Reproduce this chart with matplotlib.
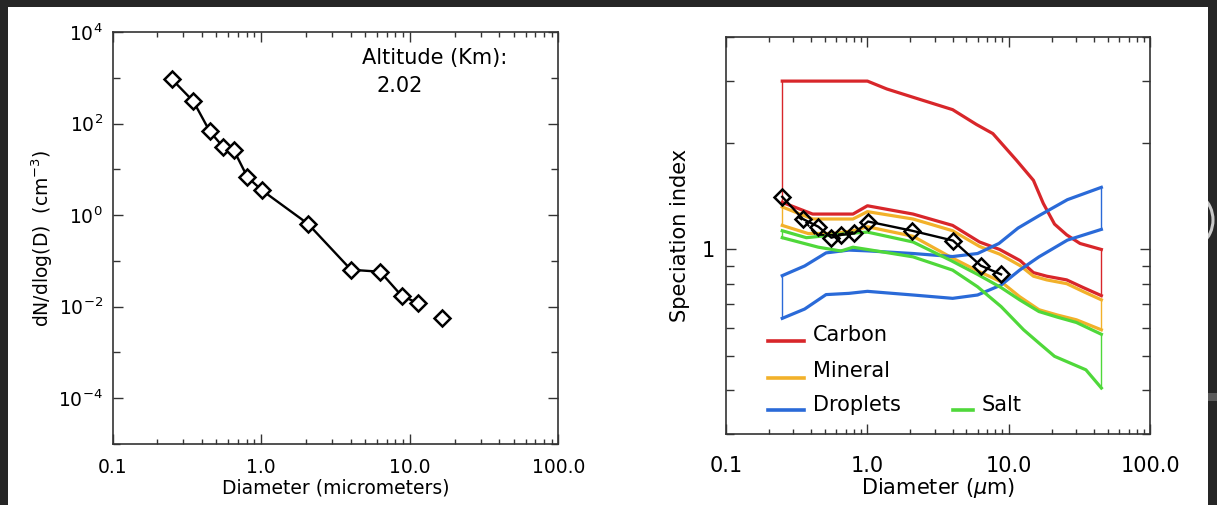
import matplotlib
matplotlib.use("Agg")
import matplotlib.pyplot as plt
from matplotlib.patches import Rectangle, Arc
from matplotlib.ticker import FixedLocator, FixedFormatter, NullFormatter

plt.rcParams["font.family"] = ["DejaVu Sans"]

# ---- left panel: size distribution at 2.02 km ----
size_D = [0.25, 0.35, 0.45, 0.556, 0.655, 0.807, 1.01, 2.07, 4.02, 6.32, 8.8, 11.3]
size_N = [940, 305, 68, 30.5, 26, 6.8, 3.5, 0.64, 0.064, 0.058, 0.0173, 0.012]
extra_D = [16.4]
extra_N = [0.0057]

# ---- right panel: speciation index bands ----
carbon_hi_D = [0.25, 1.0, 1.37, 2.1, 4.0, 5.9, 7.7, 11.3, 14.9, 17.5, 21, 25.6, 31.8, 45]
carbon_hi_S = [3.0, 3.0, 2.85, 2.70, 2.49, 2.26, 2.13, 1.79, 1.57, 1.35, 1.18, 1.10, 1.04, 1.0]
carbon_lo_D = [0.25, 0.41, 0.79, 1.0, 2.1, 4.0, 6.2, 8.6, 12, 14.9, 18.5, 25.6, 33.5, 45]
carbon_lo_S = [1.36, 1.26, 1.26, 1.33, 1.26, 1.17, 1.05, 1.0, 0.93, 0.86, 0.84, 0.82, 0.78, 0.74]

mineral_hi_D = carbon_lo_D
mineral_hi_S = [1.32, 1.22, 1.22, 1.28, 1.22, 1.13, 1.02, 0.97, 0.90, 0.84, 0.82, 0.80, 0.76, 0.72]
mineral_lo_D = [0.25, 0.38, 0.57, 0.79, 1.0, 2.1, 3.9, 6.0, 8.8, 11.9, 16.3, 22, 30, 45]
mineral_lo_S = [1.17, 1.11, 1.11, 1.13, 1.16, 1.09, 0.95, 0.87, 0.81, 0.735, 0.675, 0.652, 0.632, 0.592]

salt_hi_D = [0.25, 0.37, 0.73, 1.0, 2.1, 3.9, 6.0, 8.8, 11.9, 16.3, 22, 30, 45]
salt_hi_S = [1.13, 1.08, 1.11, 1.12, 1.05, 0.93, 0.85, 0.78, 0.72, 0.667, 0.643, 0.621, 0.575]
salt_lo_D = [0.25, 0.45, 0.65, 0.79, 1.0, 2.1, 4.0, 6.0, 8.8, 12.7, 16.3, 21, 35, 45]
salt_lo_S = [1.08, 1.015, 0.99, 1.015, 1.0, 0.953, 0.874, 0.784, 0.689, 0.592, 0.543, 0.498, 0.456, 0.405]

droplet_hi_D = [0.25, 0.36, 0.51, 0.74, 1.0, 2.1, 4.0, 6.0, 8.5, 11.6, 16.5, 25.9, 45]
droplet_hi_S = [0.843, 0.898, 0.978, 0.996, 0.991, 0.974, 0.955, 0.974, 1.04, 1.15, 1.25, 1.384, 1.50]
droplet_lo_D = [0.25, 0.36, 0.51, 0.74, 1.0, 2.1, 4.0, 6.0, 8.8, 11.9, 16.3, 25.9, 45]
droplet_lo_S = [0.638, 0.678, 0.745, 0.751, 0.761, 0.743, 0.727, 0.743, 0.793, 0.874, 0.953, 1.063, 1.14]

obs_D = [0.25, 0.35, 0.45, 0.556, 0.655, 0.807, 1.01, 2.07, 4.02, 6.32, 8.8]
obs_S = [1.41, 1.22, 1.16, 1.08, 1.10, 1.11, 1.20, 1.13, 1.06, 0.90, 0.85]
dash_D = [0.32, 0.37, 0.43, 0.6, 0.9]
dash_S = [1.24, 1.19, 1.10, 1.10, 1.13]

RED, ORANGE, BLUE, GREEN = "#d8262a", "#f2b12a", "#2a6ad8", "#4fd83a"
BG = "#262626"
SPINE = "#333333"

fig = plt.figure(figsize=(12.17, 5.05), dpi=100)
fig.patch.set_facecolor(BG)
# slide decoration peeking out on the right, then the white card
px = fig.transFigure.inverted()
fig.patches.append(Arc((1182 / 1217, 1 - 220 / 505), 62 / 1217, 62 / 505,
                       theta1=-70, theta2=70, transform=fig.transFigure,
                       color="#c8c8c8", lw=2.2, zorder=-30))
fig.patches.append(Rectangle((1200 / 1217, 1 - 401 / 505), 17 / 1217, 8 / 505,
                             transform=fig.transFigure, facecolor="#5a5a5a",
                             edgecolor="none", zorder=-30))
fig.patches.append(Rectangle((8 / 1217, 0), 1200 / 1217, 498 / 505,
                             transform=fig.transFigure, facecolor="white",
                             edgecolor="none", zorder=-10))


def style(ax, fs):
    for s in ax.spines.values():
        s.set_color(SPINE)
        s.set_linewidth(1.2)
    ax.tick_params(which="both", direction="in", top=True, right=True,
                   color=SPINE, width=1.0, labelsize=fs)
    ax.set_xscale("log")
    ax.set_xlim(0.1, 100)
    ax.xaxis.set_major_locator(FixedLocator([0.1, 1, 10, 100]))
    ax.xaxis.set_major_formatter(FixedFormatter(["0.1", "1.0", "10.0", "100.0"]))
    ax.xaxis.set_minor_locator(FixedLocator(
        [m * d for d in (0.1, 1, 10) for m in range(2, 10)]))
    ax.xaxis.set_minor_formatter(NullFormatter())
    ax.set_facecolor("none")


# left
ax1 = fig.add_axes([0.0925, 0.1208, 0.3664, 0.8158])
style(ax1, 13.5)
ax1.set_yscale("log")
ax1.set_ylim(1e-5, 1e4)
ax1.yaxis.set_major_locator(FixedLocator([1e-4, 1e-2, 1, 1e2, 1e4]))
ax1.yaxis.set_major_formatter(FixedFormatter(
    [r"$10^{-4}$", r"$10^{-2}$", r"$10^{0}$", r"$10^{2}$", r"$10^{4}$"]))
ax1.yaxis.set_minor_locator(FixedLocator([1e-5, 1e-3, 1e-1, 10, 1e3]))
ax1.yaxis.set_minor_formatter(NullFormatter())
ax1.tick_params(axis="x", which="major", length=7, pad=10)
ax1.tick_params(axis="x", which="minor", length=3.5)
ax1.tick_params(axis="y", which="major", length=7, pad=7)
ax1.tick_params(axis="y", which="minor", length=5)
ax1.plot(size_D, size_N, color="black", lw=1.7, marker="D", ms=8,
         mfc="white", mec="black", mew=1.8)
ax1.plot(extra_D, extra_N, ls="none", marker="D", ms=8,
         mfc="white", mec="black", mew=1.8)
ax1.set_xlabel("Diameter (micrometers)", fontsize=13.5, labelpad=1)
ax1.set_ylabel(r"dN/dlog(D)  (cm$^{-3}$)", fontsize=13.5, labelpad=2)
ax1.text(0.56, 0.938, "Altitude (Km):", transform=ax1.transAxes,
         fontsize=15, va="center", ha="left")
ax1.text(0.645, 0.87, "2.02", transform=ax1.transAxes,
         fontsize=15, va="center", ha="center")

# right
ax2 = fig.add_axes([0.5965, 0.1406, 0.3488, 0.7861])
style(ax2, 15)
ax2.set_yscale("log")
ax2.set_ylim(0.3, 4)
ax2.yaxis.set_major_locator(FixedLocator([1]))
ax2.yaxis.set_major_formatter(FixedFormatter(["1"]))
ax2.yaxis.set_minor_locator(FixedLocator([0.3, 0.4, 0.5, 0.6, 0.7, 0.8, 0.9, 2, 3, 4]))
ax2.yaxis.set_minor_formatter(NullFormatter())
ax2.tick_params(axis="x", which="major", length=7, pad=16)
ax2.tick_params(axis="x", which="minor", length=3.5)
ax2.tick_params(axis="y", which="major", length=7, pad=8)
ax2.tick_params(axis="y", which="minor", length=5.5)

bands = [
    (carbon_hi_D, carbon_hi_S, carbon_lo_D, carbon_lo_S, RED),
    (mineral_hi_D, mineral_hi_S, mineral_lo_D, mineral_lo_S, ORANGE),
    (droplet_hi_D, droplet_hi_S, droplet_lo_D, droplet_lo_S, BLUE),
    (salt_hi_D, salt_hi_S, salt_lo_D, salt_lo_S, GREEN),
]
for hd, hs, ld, ls_, c in bands:
    ax2.plot(hd, hs, color=c, lw=2.3, solid_joinstyle="round")
    ax2.plot(ld, ls_, color=c, lw=2.3, solid_joinstyle="round")
    ax2.plot([hd[0], ld[0]], [hs[0], ls_[0]], color=c, lw=1.0)
    ax2.plot([hd[-1], ld[-1]], [hs[-1], ls_[-1]], color=c, lw=1.0)

ax2.plot(dash_D, dash_S, color="black", lw=1.4, ls=(0, (3, 2)))
ax2.plot(obs_D, obs_S, color="black", lw=1.7, marker="D", ms=8,
         mfc="none", mec="black", mew=1.8)

leg = [("Carbon", RED, 0.099, 0.184, 0.234, 0.249),
       ("Mineral", ORANGE, 0.099, 0.184, 0.141, 0.159),
       ("Droplets", BLUE, 0.099, 0.184, 0.060, 0.073),
       ("Salt", GREEN, 0.535, 0.582, 0.060, 0.073)]
for name, c, x0, x1, yl, yt in leg:
    ax2.plot([x0, x1], [yl, yl], color=c, lw=2.6, transform=ax2.transAxes)
    ax2.text(x1 + 0.02, yt, name, transform=ax2.transAxes, fontsize=15,
             va="center", ha="left")

ax2.set_xlabel(r"Diameter ($\mu$m)", fontsize=15, labelpad=0)
ax2.set_ylabel("Speciation index", fontsize=15, labelpad=8)

fig.savefig("out.png", dpi=100, facecolor=BG)
